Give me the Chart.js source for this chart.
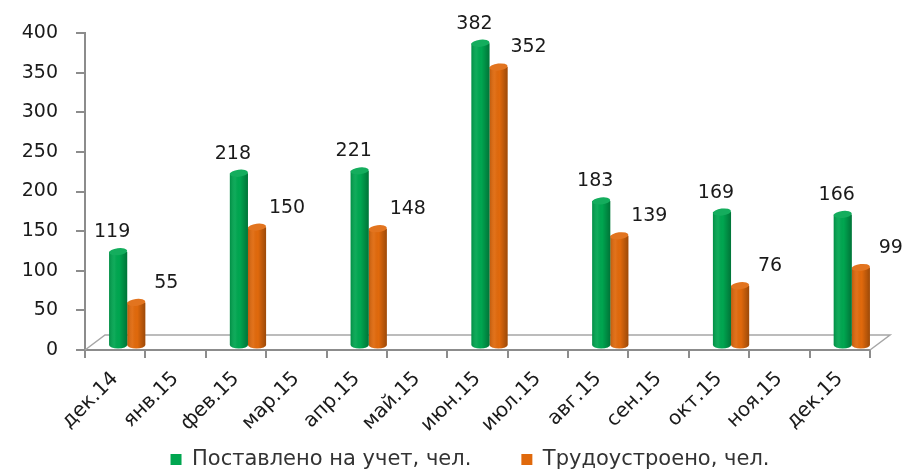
<!DOCTYPE html>
<html>
<head>
<meta charset="utf-8">
<script src="https://cdn.jsdelivr.net/npm/chart.js@4.4.1/dist/chart.umd.min.js"></script>
<style>
    html, body { margin: 0; padding: 0; background: #fff; }
    #wrap { width: 908px; height: 470px; }
</style>
</head>
<body>
<div id="wrap"><canvas id="jobsChart"></canvas></div>
<script>
// months on the x axis
var months = ['дек.14', 'янв.15', 'фев.15', 'мар.15', 'апр.15', 'май.15', 'июн.15',
    'июл.15', 'авг.15', 'сен.15', 'окт.15', 'ноя.15', 'дек.15'];

// only every second month has values
var registered = [119, null, 218, null, 221, null, 382, null, 183, null, 169, null, 166];
var employed = [55, null, 150, null, 148, null, 352, null, 139, null, 76, null, 99];

var seriesNames = ['Поставлено на учет, чел.', 'Трудоустроено, чел.'];
var yMax = 400;
var yStep = 50;

var GREEN = '#00A650';
var ORANGE = '#E0690C';
var AXIS = '#8c8c8c';
var FONT = '"DejaVu Sans"';

// fake 3d: bars sit a bit behind the front edge of the floor
var DEPTH_X = 12, DEPTH_Y = -4;

var cylinders = {
    id: 'cylinders',
    afterLayout(chart) {
        // legend in the original is centred under the plot, not the page
        chart.legend.left += 35;
        chart.legend.right += 35;
    },
    beforeDatasetsDraw(chart) {
        var ctx = chart.ctx, a = chart.chartArea;
        // floor outline
        ctx.save();
        ctx.strokeStyle = '#a6a6a6';
        ctx.lineWidth = 1.5;
        ctx.beginPath();
        ctx.moveTo(a.left, a.bottom);
        ctx.lineTo(a.left + 20, a.bottom - 15);
        ctx.lineTo(a.right + 20, a.bottom - 15);
        ctx.lineTo(a.right, a.bottom);
        ctx.stroke();
        ctx.restore();

        ctx.save();
        ctx.translate(DEPTH_X, DEPTH_Y);
    },
    afterDatasetsDraw(chart) {
        var ctx = chart.ctx;
        chart.data.datasets.forEach((ds, di) => {
            var meta = chart.getDatasetMeta(di);
            meta.data.forEach((bar, i) => {
                if (ds.data[i] == null) return;
                var l = bar.x - bar.width / 2, w = bar.width;
                var top = bar.y, base = bar.base;
                var ry = 3.5;
                // bottom rounding
                ctx.fillStyle = ds.backgroundColor;
                ctx.beginPath();
                ctx.ellipse(bar.x, base, w / 2, ry, 0, 0, Math.PI);
                ctx.fill();
                // side shading
                var g = ctx.createLinearGradient(l, 0, l + w, 0);
                g.addColorStop(0, 'rgba(0,0,0,0.15)');
                g.addColorStop(0.3, 'rgba(255,255,255,0.06)');
                g.addColorStop(0.55, 'rgba(0,0,0,0)');
                g.addColorStop(1, 'rgba(0,0,0,0.3)');
                ctx.fillStyle = g;
                ctx.beginPath();
                ctx.moveTo(l, top);
                ctx.lineTo(l + w, top);
                ctx.lineTo(l + w, base);
                ctx.ellipse(bar.x, base, w / 2, ry, 0, 0, Math.PI);
                ctx.closePath();
                ctx.fill();
                // top cap
                ctx.fillStyle = ds.backgroundColor;
                ctx.beginPath();
                ctx.ellipse(bar.x, top, w / 2, ry, -0.12, 0, Math.PI * 2);
                ctx.fill();
                ctx.fillStyle = 'rgba(255,255,255,0.08)';
                ctx.fill();
            });
        });

        // value labels, orange ones drift to the right like in the excel 3d chart
        ctx.font = '19px ' + FONT;
        ctx.fillStyle = '#1a1a1a';
        ctx.textAlign = 'center';
        ctx.textBaseline = 'bottom';
        chart.data.datasets.forEach((ds, di) => {
            var meta = chart.getDatasetMeta(di);
            meta.data.forEach((bar, i) => {
                if (ds.data[i] == null) return;
                var dx = di === 0 ? -6 : 30;
                ctx.fillText(String(ds.data[i]), bar.x + dx, bar.y - 10);
            });
        });
        ctx.restore();
    }
};

new Chart('jobsChart', {
    type: 'bar',
    data: {
        labels: months,
        datasets: [{
            label: seriesNames[0] + '      ',
            data: registered,
            backgroundColor: GREEN,
            borderWidth: 0
        }, {
            label: seriesNames[1],
            data: employed,
            backgroundColor: ORANGE,
            borderWidth: 0
        }]
    },
    options: {
        responsive: true,
        maintainAspectRatio: false,
        animation: false,
        clip: false,
        datasets: {
            bar: { barPercentage: 1, categoryPercentage: 0.6 }
        },
        layout: {
            padding: { top: 33, right: 38, left: 0, bottom: -10 }
        },
        plugins: {
            legend: {
                position: 'bottom',
                labels: {
                    font: { family: FONT, size: 21 },
                    color: '#333',
                    boxWidth: 11,
                    boxHeight: 11,
                    padding: 10
                }
            },
            tooltip: { enabled: false }
        },
        scales: {
            x: {
                grid: {
                    offset: true,
                    drawOnChartArea: false,
                    tickLength: 8,
                    color: AXIS,
                    lineWidth: 2
                },
                border: { color: AXIS, width: 2 },
                ticks: {
                    minRotation: 45,
                    maxRotation: 45,
                    autoSkip: false,
                    padding: 9,
                    color: '#1a1a1a',
                    font: { family: FONT, size: 20 }
                },
                afterFit(scale) { scale.height = 89; }
            },
            y: {
                min: 0,
                max: yMax,
                grid: {
                    drawOnChartArea: false,
                    tickLength: 9,
                    color: AXIS,
                    lineWidth: 2
                },
                border: { color: AXIS, width: 2 },
                ticks: {
                    stepSize: yStep,
                    padding: 18,
                    color: '#1a1a1a',
                    font: { family: FONT, size: 19 }
                },
                afterFit(scale) { scale.width = 85; }
            }
        }
    },
    plugins: [cylinders]
});
</script>
</body>
</html>
